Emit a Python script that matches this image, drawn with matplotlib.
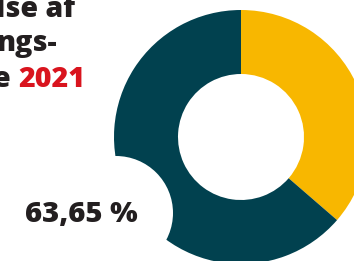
import matplotlib.pyplot as plt
from matplotlib.patches import Circle

# Share values (percent)
labels = ["Øvrige", "Andel"]
shares = [36.35, 63.65]
colors = ["#F8B700", "#01414F"]
label_text = "63,65 %"

# Title lines (left part is cut off in the original)
title_lines = ["lse af", "ngs-", "e "]
title_year = "2021"

fig = plt.figure(figsize=(3.54, 2.61), dpi=100)
ax = fig.add_axes([0, 0, 1, 1])

# Donut
ax.pie(shares, colors=colors, startangle=90, counterclock=False,
       center=(241, 124), radius=127,
       wedgeprops=dict(width=64, edgecolor="none"))

# white bubble behind the label
ax.add_patch(Circle((116, 48), 57, facecolor="white", edgecolor="none", zorder=5))
ax.text(81, 47, label_text, ha="center", va="center", fontsize=21,
        fontweight=800, family="Open Sans", color="#231F20", zorder=6)

# Title
font = dict(fontsize=20.5, fontweight=800, family="Open Sans", color="#231F20")
ax.text(-4, 244, title_lines[0], ha="left", va="baseline", **font)
ax.text(-4, 210, title_lines[1], ha="left", va="baseline", **font)
t = ax.text(-7, 174, title_lines[2], ha="left", va="baseline", **font)
ax.annotate(title_year, xycoords=t, xy=(1, 0), va="bottom", ha="left",
            **dict(font, color="#D9141E"))

ax.set_xlim(0, 354)
ax.set_ylim(0, 261)
ax.set_aspect("equal")
ax.axis("off")

fig.savefig("out.png", dpi=100)
